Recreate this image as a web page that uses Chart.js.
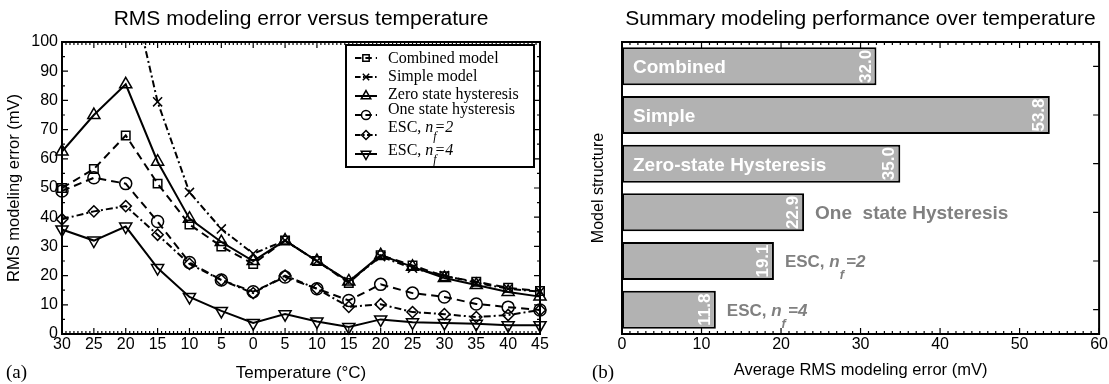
<!DOCTYPE html>
<html><head><meta charset="utf-8">
<script src="https://cdn.jsdelivr.net/npm/chart.js@4.4.0/dist/chart.umd.min.js"></script>
<style>
html,body{margin:0;padding:0;background:#fff;width:1109px;height:384px;overflow:hidden}
#c1{position:absolute;left:0;top:0}
#c2{position:absolute;left:555px;top:0}
</style></head><body>
<canvas id="c1" width="555" height="384"></canvas>
<canvas id="c2" width="554" height="384"></canvas>
<script>
// ---------- data ----------
const temps = [-30,-25,-20,-15,-10,-5,0,5,10,15,20,25,30,35,40,45];
const seriesNames = ['Combined model','Simple model','Zero state hysteresis','One state hysteresis','ESC, n_f=2','ESC, n_f=4'];
const combinedErr = [50,56.5,68,51.5,37.5,30,24,32,25,17.5,27,23.5,19.8,17.9,15.8,14.7];
const simpleErr   = [190,160,127,79.5,48.5,36,27.5,32,25,18,26.5,22.5,20,17.5,15.5,14.5];
const zeroHystErr = [62.5,75,85.5,59,39.5,31.5,25,32,25,18,27,23,19.2,16.8,14.4,12.8];
const oneHystErr  = [49,53.5,51.5,38.5,24.5,18.5,14.5,19.5,15.5,11.5,17,14,12.7,10.3,9.2,8.2];
const escNf2Err   = [39.3,42,43.8,34,24,18.5,14,20,15.5,9.3,10.2,7.5,6.8,5.8,6.5,8.2];
const escNf4Err   = [35.8,32,36.8,22.6,12.7,7.9,3.8,6.8,4.3,2.4,5,4,3.8,3.5,3,3];
const rmsTickMax = 100;

const models = ['Combined','Simple','Zero-state Hysteresis','One  state Hysteresis','ESC, n_f=2','ESC, n_f=4'];
const avgErr = [32.0, 53.8, 35.0, 22.9, 19.1, 11.8];
const avgTickMax = 60;

// ---------- styles ----------
const SANS = '"Liberation Sans", Arial, sans-serif';
const SERIF = '"Liberation Serif", "Times New Roman", serif';
Chart.defaults.font.family = SANS;
Chart.defaults.color = '#000';

const seriesData = [combinedErr, simpleErr, zeroHystErr, oneHystErr, escNf2Err, escNf4Err];
const seriesStyle = [
  {dash:[8,5], pt:'rect', rot:0, r:6},
  {dash:[7,3,2,3], pt:'crossRot', rot:0, r:6.4},
  {dash:[], pt:'triangle', rot:0, r:7},
  {dash:[8,5], pt:'circle', rot:0, r:6},
  {dash:[7,3,2,3], pt:'rectRot', rot:0, r:5.6},
  {dash:[], pt:'triangle', rot:180, r:7}
];

function tickLines(ctx, a, side, pxs, len) {
  ctx.beginPath();
  for (const p of pxs) {
    if (side === 'bottom') { ctx.moveTo(p, a.bottom); ctx.lineTo(p, a.bottom - len); }
    else if (side === 'top') { ctx.moveTo(p, a.top); ctx.lineTo(p, a.top + len); }
    else if (side === 'left') { ctx.moveTo(a.left, p); ctx.lineTo(a.left + len, p); }
    else { ctx.moveTo(a.right, p); ctx.lineTo(a.right - len, p); }
  }
  ctx.stroke();
}

function drawRich(ctx, text, x, yb, o) {
  const f = (style, size) => `${style} ${o.weight} ${size}px ${o.family}`;
  ctx.fillStyle = o.color; ctx.textBaseline = 'alphabetic'; ctx.textAlign = 'left';
  const m = text.match(/^(.*?)n_f(.*)$/);
  if (!m) { ctx.font = f('normal', o.size); ctx.fillText(text, x, yb); return; }
  ctx.font = f('normal', o.size); ctx.fillText(m[1], x, yb); x += ctx.measureText(m[1]).width;
  ctx.font = f('italic', o.size); ctx.fillText('n', x, yb); x += ctx.measureText('n').width;
  const sub = o.size * 0.75;
  ctx.font = f('italic', sub); ctx.fillText('f', x, yb + o.size * o.subDrop);
  x += sub * o.subAdv;
  ctx.font = f('italic', o.size); ctx.fillText(m[2], x, yb);
}

function marker(ctx, st, x, y, r) {
  const opts = {pointStyle: st.pt, rotation: st.rot, radius: r, borderWidth: 1.5};
  ctx.save();
  ctx.setLineDash([]);
  ctx.fillStyle = 'rgba(0,0,0,0)';
  ctx.strokeStyle = '#000';
  ctx.lineWidth = 1.5;
  Chart.helpers.drawPoint(ctx, opts, x, y);
  ctx.restore();
}

// ---------- left chart ----------
const leftPlugin = {
  id: 'leftFrame',
  afterDraw(chart) {
    const {ctx, chartArea: a, scales: {x, y}} = chart;
    ctx.save();
    ctx.strokeStyle = '#000'; ctx.setLineDash([]); ctx.lineWidth = 1.2;
    const xMaj = temps.map((t, i) => x.getPixelForValue(i));
    const xMin = [];
    for (let i = 0; i < temps.length - 1; i++) for (let k = 1; k < 8; k++) xMin.push(x.getPixelForValue(i + k / 8));
    const yMaj = y.ticks.map(t => y.getPixelForValue(t.value));
    const yMin = y.ticks.slice(0, -1).map(t => y.getPixelForValue(t.value + 5));
    tickLines(ctx, a, 'bottom', xMaj, 6); tickLines(ctx, a, 'top', xMaj, 6);
    tickLines(ctx, a, 'bottom', xMin, 3); tickLines(ctx, a, 'top', xMin, 3);
    tickLines(ctx, a, 'left', yMaj, 6); tickLines(ctx, a, 'right', yMaj, 6);
    tickLines(ctx, a, 'left', yMin, 3); tickLines(ctx, a, 'right', yMin, 3);
    ctx.lineWidth = 2;
    ctx.strokeRect(a.left, a.top, a.right - a.left, a.bottom - a.top);

    // legend box
    const bx = 346, by = 45, bw = 188, bh = 122;
    ctx.fillStyle = '#fff'; ctx.fillRect(bx, by, bw, bh);
    ctx.lineWidth = 2; ctx.strokeRect(bx, by, bw, bh);
    const markY = [58, 77, 96, 115, 135, 154];
    const textB = [63, 81, 99, 114, 132, 155];
    seriesNames.forEach((name, i) => {
      const st = seriesStyle[i];
      ctx.save();
      ctx.lineWidth = 2; ctx.strokeStyle = '#000';
      ctx.setLineDash(st.dash.map(d => d * 0.8));
      ctx.beginPath(); ctx.moveTo(355, markY[i]); ctx.lineTo(377, markY[i]); ctx.stroke();
      ctx.restore();
      marker(ctx, st, 366, markY[i], st.pt === 'triangle' ? 5.5 : 4.5);
      drawRich(ctx, name, 388, textB[i], {size: 16, family: SERIF, weight: 'normal', color: '#000', subDrop: 0.5, subAdv: 0.1});
    });

    // panel label
    ctx.fillStyle = '#000'; ctx.font = `19px ${SERIF}`; ctx.textAlign = 'left'; ctx.textBaseline = 'alphabetic';
    ctx.fillText('(a)', 6, 378);
    ctx.restore();
  }
};

new Chart(document.getElementById('c1'), {
  type: 'line',
  data: {
    labels: temps,
    datasets: seriesData.map((d, i) => ({
      label: seriesNames[i],
      data: d,
      borderColor: '#000',
      borderWidth: 2,
      borderDash: seriesStyle[i].dash,
      pointStyle: seriesStyle[i].pt,
      pointRotation: seriesStyle[i].rot,
      pointRadius: seriesStyle[i].r,
      pointBorderWidth: 1.5,
      pointBorderColor: '#000',
      pointBackgroundColor: 'rgba(0,0,0,0)',
      fill: false,
      tension: 0,
      clip: {left: 10, right: 10, top: 0, bottom: 10}
    }))
  },
  options: {
    responsive: false,
    animation: false,
    layout: {padding: {left: 0, right: 15, top: 0, bottom: 0}},
    plugins: {
      legend: {display: false},
      tooltip: {enabled: false},
      title: {display: true, fullSize: false, text: 'RMS modeling error versus temperature', color: '#000',
        font: {size: 21, weight: 'normal', family: SANS}, padding: {top: 7, bottom: 9.8}}
    },
    scales: {
      x: {
        type: 'category', offset: false,
        grid: {display: false, drawTicks: false}, border: {display: false},
        ticks: {font: {size: 16}, color: '#000', padding: 1, autoSkip: false, maxRotation: 0,
          callback: (v, i) => String(Math.abs(temps[i]))},
        title: {display: true, text: 'Temperature (°C)', font: {size: 17}, color: '#000', padding: {top: 0, bottom: 0}},
        afterFit(s) { s.height = 50; }
      },
      y: {
        min: 0, max: rmsTickMax,
        grid: {display: false, drawTicks: false}, border: {display: false},
        ticks: {stepSize: 10, font: {size: 16}, color: '#000', padding: 4},
        title: {display: true, text: 'RMS modeling error (mV)', font: {size: 16.5}, color: '#000', padding: {top: 5, bottom: 0}},
        afterFit(s) { s.width = 62; }
      }
    }
  },
  plugins: [leftPlugin]
});

// ---------- right chart ----------
const rightPlugin = {
  id: 'rightFrame',
  afterDatasetsDraw(chart) {
    const {ctx} = chart;
    const meta = chart.getDatasetMeta(0);
    ctx.save();
    meta.data.forEach((bar, i) => {
      const val = avgErr[i];
      const name = models[i];
      const isEsc = /n_f/.test(name);
      const size = isEsc ? 17 : 19;
      const o = {size: size, family: SANS, weight: 'bold', color: val >= 30 ? '#fff' : '#808080', subDrop: 0.7, subAdv: 0.5};
      const tx = val >= 30 ? bar.base + 11 : bar.x + 11;
      drawRich(ctx, name, tx, bar.y + size * 0.36, o);
      ctx.save();
      ctx.translate(bar.x - 10.5, bar.y);
      ctx.rotate(-Math.PI / 2);
      ctx.fillStyle = '#fff'; ctx.font = `bold 17px ${SANS}`;
      ctx.textAlign = 'center'; ctx.textBaseline = 'middle';
      ctx.fillText(val.toFixed(1), 0, 0);
      ctx.restore();
    });
    ctx.restore();
  },
  afterDraw(chart) {
    const {ctx, chartArea: a, scales: {x, y}} = chart;
    ctx.save();
    ctx.strokeStyle = '#000'; ctx.setLineDash([]); ctx.lineWidth = 1.2;
    const xMaj = x.ticks.map(t => x.getPixelForValue(t.value));
    const xMin = [];
    for (let v = 0; v < avgTickMax; v++) if (v % 10) xMin.push(x.getPixelForValue(v));
    const yMaj = models.map((m, i) => y.getPixelForValue(i));
    tickLines(ctx, a, 'bottom', xMaj, 6); tickLines(ctx, a, 'top', xMaj, 6);
    tickLines(ctx, a, 'bottom', xMin, 3); tickLines(ctx, a, 'top', xMin, 3);
    tickLines(ctx, a, 'right', yMaj, 6);
    ctx.lineWidth = 2;
    ctx.strokeRect(a.left, a.top, a.right - a.left, a.bottom - a.top);
    ctx.fillStyle = '#000'; ctx.font = `19px ${SERIF}`; ctx.textAlign = 'left'; ctx.textBaseline = 'alphabetic';
    ctx.fillText('(b)', 37, 378);
    ctx.restore();
  }
};

new Chart(document.getElementById('c2'), {
  type: 'bar',
  data: {
    labels: models,
    datasets: [{
      data: avgErr,
      backgroundColor: '#b2b2b2',
      borderColor: '#000',
      borderWidth: 2,
      borderSkipped: false,
      barPercentage: 0.78,
      categoryPercentage: 1
    }]
  },
  options: {
    indexAxis: 'y',
    responsive: false,
    animation: false,
    layout: {padding: {left: 0, right: 9, top: 0, bottom: 0}},
    plugins: {
      legend: {display: false},
      tooltip: {enabled: false},
      title: {display: true, fullSize: false, text: 'Summary modeling performance over temperature', color: '#000',
        font: {size: 21, weight: 'normal', family: SANS}, padding: {top: 7, bottom: 9.8}}
    },
    scales: {
      x: {
        min: 0, max: avgTickMax,
        grid: {display: false, drawTicks: false}, border: {display: false},
        ticks: {stepSize: 10, font: {size: 16}, color: '#000', padding: 1, maxRotation: 0},
        title: {display: true, text: 'Average RMS modeling error (mV)', font: {size: 16.5}, color: '#000', padding: {top: 0, bottom: 4}},
        afterFit(s) { s.height = 50; }
      },
      y: {
        grid: {display: false, drawTicks: false}, border: {display: false},
        ticks: {display: false},
        title: {display: true, text: 'Model structure', font: {size: 16}, color: '#000', padding: {top: 34, bottom: 0}},
        afterFit(s) { s.width = 67; }
      }
    }
  },
  plugins: [rightPlugin]
});
</script>
</body></html>
